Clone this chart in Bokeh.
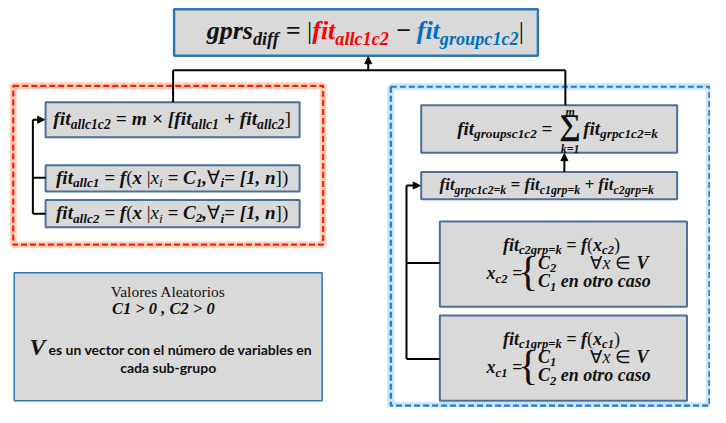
from bokeh.plotting import figure
from bokeh.models import Range1d, ColumnDataSource, Arrow, NormalHead
from bokeh.core.properties import value, field
from bokeh.embed import file_html
from bokeh.resources import INLINE

# ---------------- content (texts of the diagram) ----------------
K, RED, BLUE = "#111111", "#ff0000", "#0070c0"

TOP_FORMULA = [("gprs", "b"), ("diff", "bs"), (" = ", "b"), ("|", "r"),
               ("fit", "b", RED), ("allc1c2", "bs", RED), (" − ", "b"),
               ("fit", "b", BLUE), ("groupc1c2", "bs", BLUE), ("|", "r")]
ALL_C1C2 = [("fit", "b"), ("allc1c2", "bs"), (" = ", "b"), ("m", "b"), (" × ", "b"),
            ("[", "b"), ("fit", "b"), ("allc1", "bs"), (" + ", "b"), ("fit", "b"),
            ("allc2", "bs"), ("]", "r")]
ALL_C1 = [("fit", "b"), ("allc1", "bs"), (" = ", "b"), ("f", "b"), ("(", "r"), ("x", "b"),
          (" |", "r"), ("x", "i"), ("i", "is"), (" = ", "b"), ("C", "b"), ("1", "bs"),
          (",", "b"), ("∀", "r"), ("i", "bs"), ("= ", "b"), ("[", "b"), ("1", "b"),
          (", ", "b"), ("n", "b"), ("])", "r")]
ALL_C2 = [("fit", "b"), ("allc2", "bs"), (" = ", "b"), ("f", "b"), ("(", "r"), ("x", "b"),
          (" |", "r"), ("x", "i"), ("i", "is"), (" = ", "b"), ("C", "b"), ("2", "bs"),
          (",", "b"), ("∀", "r"), ("i", "bs"), ("= ", "b"), ("[", "b"), ("1", "b"),
          (", ", "b"), ("n", "b"), ("])", "r")]
SUM_LEFT = [("fit", "b"), ("groupsc1c2", "bs"), (" = ", "b")]
SUM_SYMBOL, SUM_TOP, SUM_BOTTOM = "∑", "m", "k=1"
SUM_RIGHT = [("fit", "b"), ("grpc1c2=k", "bs")]
GRP_SUM = [("fit", "b"), ("grpc1c2=k", "bs"), (" = ", "b"), ("fit", "b"), ("c1grp=k", "bs"),
           (" + ", "b"), ("fit", "b"), ("c2grp=k", "bs")]
C2_DEF = [("fit", "b"), ("c2grp=k", "bs"), (" = ", "b"), ("f", "b"), ("(", "r"),
          ("x", "b"), ("c2", "bs"), (")", "r")]
C2_LHS = [("x", "b"), ("c2", "bs"), (" =", "b")]
C2_CASE1 = [("C", "b"), ("2", "bs")]
C2_CASE2 = [("C", "b"), ("1", "bs"), (" en otro caso", "b")]
C1_DEF = [("fit", "b"), ("c1grp=k", "bs"), (" = ", "b"), ("f", "b"), ("(", "r"),
          ("x", "b"), ("c1", "bs"), (")", "r")]
C1_LHS = [("x", "b"), ("c1", "bs"), (" =", "b")]
C1_CASE1 = [("C", "b"), ("1", "bs")]
C1_CASE2 = [("C", "b"), ("2", "bs"), (" en otro caso", "b")]
COND = [("∀", "r"), ("x", "i"), (" ∈ ", "r"), ("V", "b")]
NOTE_TITLE = "Valores Aleatorios"
NOTE_COND = "C1 > 0 , C2 > 0"
NOTE_V = "V"
NOTE_LINE1 = "es un vector con el número de variables en"
NOTE_LINE2 = "cada sub-grupo"

# ---------------- layout (reference pixel space, y downwards) ----------------
W, H = 710, 407
X0, X1, Y0, Y1 = 0, 724, 0, 420
KX = (X1 - X0) / W
KY = (Y1 - Y0) / H
SERIF, SANS = "Liberation Serif", "Lato"
SUB = 0.7

BI = dict(zip("abcdefghijklmnopqrstuvwxyz", [500, 500, 444, 500, 444, 333, 500, 556, 278, 278, 500, 278, 778,
                                            556, 500, 500, 500, 389, 389, 278, 556, 444, 667, 500, 444, 389]))
BI.update(dict(zip("ABCDEFGHIJKLMNOPQRSTUVWXYZ", [667, 667, 667, 722, 667, 667, 722, 778, 389, 500, 667, 611, 889,
                                                722, 722, 611, 722, 667, 556, 611, 722, 667, 889, 667, 611, 611])))
BI.update({" ": 250, "=": 570, "+": 570, "−": 570, "×": 570, ">": 570, "(": 333, ")": 333, "[": 333,
           "]": 333, ",": 250, "|": 220, "∀": 700, "∈": 700, "0": 500, "1": 500, "2": 500})
IT = dict(BI)
IT.update({"x": 444, "i": 278, "V": 611})
RM = dict(BI)
RM.update({"|": 200, "(": 333, ")": 333, "]": 333, "∈": 950, "∀": 700, " ": 250})

STYLE = {"b": ("bold italic", BI), "bs": ("bold italic", BI), "i": ("italic", IT),
         "is": ("italic", IT), "r": ("normal", RM)}

groups = {}


def add_text(x, y, text, size, color=K, font=SERIF, style="bold italic", align="left", baseline="middle"):
    key = (font, style, align, baseline)
    g = groups.setdefault(key, {"x": [], "y": [], "text": [], "size": [], "color": []})
    g["x"].append(x)
    g["y"].append(y)
    g["text"].append(text)
    g["size"].append("%.1fpx" % size)
    g["color"].append(color)


def tw(t, st, s):
    tab = STYLE[st][1]
    sz = s * SUB if st.endswith("s") else s
    return sum(tab.get(ch, 500) for ch in t) / 1000 * sz


def widths(pieces, s):
    return [tw(pc[0], pc[1], s) for pc in pieces]


def place(pieces, x, cy, s, align="center"):
    ws = widths(pieces, s)
    total = sum(ws)
    off = {"center": -total / 2, "left": 0, "right": -total}[align]
    cur = x + off * KX
    cy = cy - 0.06 * s * KY
    for pc, w in zip(pieces, ws):
        t, st = pc[0], pc[1]
        col = pc[2] if len(pc) > 2 else K
        sub = st.endswith("s")
        sz = s * SUB if sub else s
        yy = cy + (0.3 * s * KY if sub else 0)
        lead = len(t) - len(t.lstrip(" "))
        core = t.strip(" ")
        xx = cur + tw(" " * lead, st, s) * KX
        if core:
            add_text(xx, yy, core, sz, col, SERIF, STYLE[st][0])
        cur += w * KX
    return cur


# boxes: left, top, right, bottom
GRAY_BOXES = {
    "top": (177, 9, 548, 57),
    "a1": (46, 105, 305, 141),
    "a2": (46, 170, 305, 197),
    "a3": (46, 206, 305, 234),
    "sum": (429, 108, 690, 157),
    "grp": (429, 177, 690, 205),
    "c2": (448, 228, 700, 316),
    "c1": (448, 325, 700, 413),
    "note": (14, 281, 328, 413),
}
RED_FRAME = (13, 88, 329, 252)
BLUE_FRAME = (398, 89, 723, 418)

p = figure(width=W, height=H, x_range=Range1d(X0, X1), y_range=Range1d(Y1, Y0),
           output_backend="svg", toolbar_location=None, min_border=0)
p.axis.visible = False
p.grid.visible = False
p.outline_line_color = None
p.background_fill_color = "white"

# frames with glow
for (l, t, r, b), glow, col in [(RED_FRAME, "#ffa060", "#ff1a1a"), (BLUE_FRAME, "#8fc0f0", "#1a7fd9")]:
    p.quad(left=[l], right=[r], top=[t], bottom=[b], fill_alpha=0, line_color=glow, line_width=7, line_alpha=0.45)
    p.quad(left=[l], right=[r], top=[t], bottom=[b], fill_alpha=0, line_color=col, line_width=2.2, line_dash="6 3")

# gray boxes
for name, (l, t, r, b) in GRAY_BOXES.items():
    if name == "top":
        lc, lw = "#2e75b6", 2.5
    elif name == "note":
        lc, lw = "#2e75b6", 1.5
    else:
        lc, lw = "#4a709a", 2
    p.quad(left=[l], right=[r], top=[t], bottom=[b], fill_color="#d9d9d9", line_color=lc, line_width=lw)

# connector lines
LINES = [
    ([176, 576], [72, 72]), ([176, 176], [72, 105]), ([576, 576], [72, 108]),
    ([33, 33], [123, 220]), ([33, 46], [183, 183]), ([33, 46], [220, 220]),
    ([414, 414], [191, 370]), ([414, 448], [271, 271]), ([414, 448], [370, 370]),
]
p.multi_line(xs=[l[0] for l in LINES], ys=[l[1] for l in LINES], line_color="black", line_width=2)

ARROWS = [((375, 72), (375, 58)), ((575, 177), (575, 158)), ((33, 123), (45, 123)), ((414, 191), (428, 191))]
for (xs, ys), (xe, ye) in ARROWS:
    p.add_layout(Arrow(end=NormalHead(size=7, fill_color="black", line_color="black", line_width=1),
                       x_start=xs, y_start=ys, x_end=xe, y_end=ye, line_color="black", line_width=2))

# formulas
place(TOP_FORMULA, 372, 33, 26)
place(ALL_C1C2, 175, 123, 19.5)
place(ALL_C1, 175, 183.5, 19)
place(ALL_C2, 175, 220, 19)

# sum formula
s = 19
wl = sum(widths(SUM_LEFT, s))
wr = sum(widths(SUM_RIGHT, s))
wsig = 26
total = wl + wsig + wr
start = 568 - total / 2 * KX
place(SUM_LEFT, start, 133, s, "left")
sx = start + (wl + wsig / 2) * KX
add_text(sx, 127.5, SUM_SYMBOL, 30, K, SERIF, "bold", "center")
add_text(sx, 115, SUM_TOP, 12, K, SERIF, "bold italic", "center")
add_text(sx, 153, SUM_BOTTOM, 12, K, SERIF, "bold italic", "center")
place(SUM_RIGHT, start + (wl + wsig) * KX, 133, s, "left")

place(GRP_SUM, 557, 191, 17)

# piecewise definitions
for defn, lhs, c1, c2, y1 in [(C2_DEF, C2_LHS, C2_CASE1, C2_CASE2, 253), (C1_DEF, C1_LHS, C1_CASE1, C1_CASE2, 350)]:
    place(defn, 572, y1, 18)
    ya, yb = y1 + 19, y1 + 38
    place(lhs, 532, (ya + yb) / 2 + 1, 18, "right")
    add_text(538, (ya + yb) / 2 - 2, "{", 42, K, SERIF, "normal", "center")
    place(c1, 548, ya, 18, "left")
    place(COND, 601, ya, 18, "left")
    place(c2, 548, yb, 18, "left")

# note box
add_text(171, 300, NOTE_TITLE, 15.5, K, SERIF, "normal", "center")
add_text(166, 318, NOTE_COND, 16.5, K, SERIF, "bold italic", "center")
add_text(46, 358, NOTE_V, 24, K, SERIF, "bold italic", "right")
add_text(49, 360, NOTE_LINE1, 14, K, SANS, "bold", "left")
add_text(171, 379, NOTE_LINE2, 14, K, SANS, "bold", "center")

for (font, style, align, baseline), g in groups.items():
    src = ColumnDataSource(g)
    p.text(x="x", y="y", text="text", source=src, text_font=value(font), text_font_style=style,
           text_font_size=field("size"), text_color=field("color"), text_align=align, text_baseline=baseline)

open("out.html", "w").write(file_html(p, INLINE))
